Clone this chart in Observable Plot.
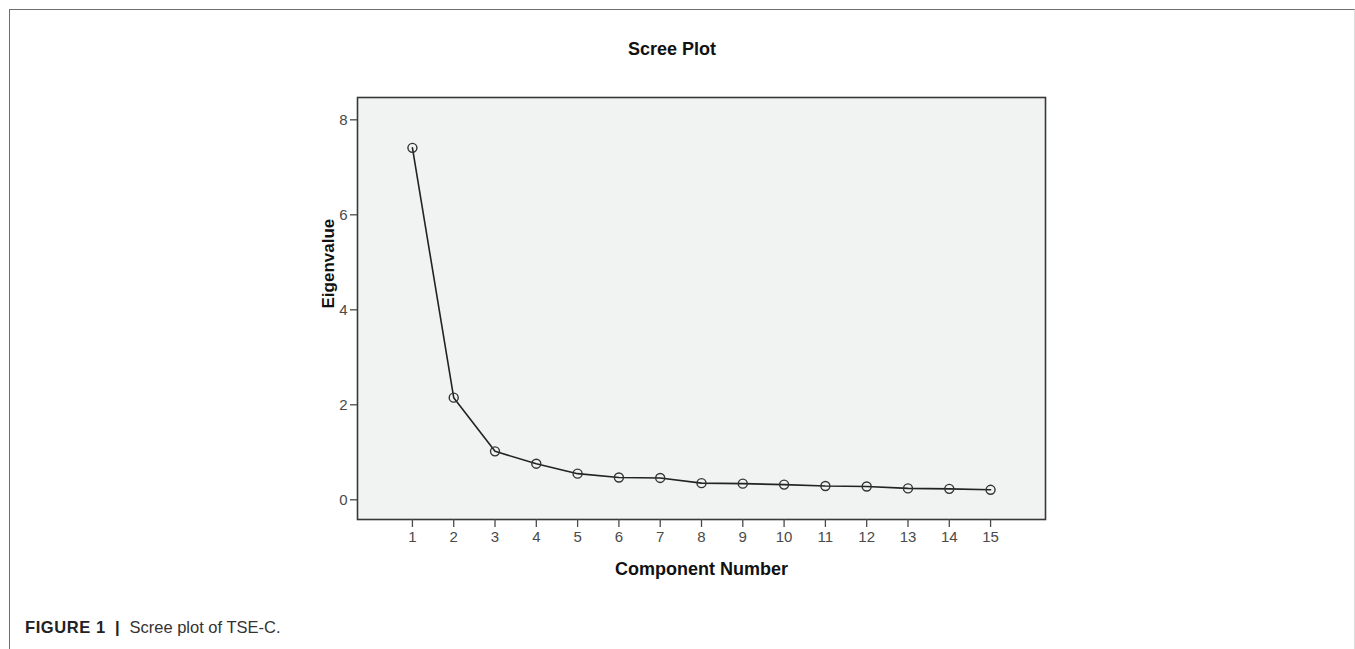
<!DOCTYPE html>
<html>
<head>
<meta charset="utf-8">
<script src="https://cdn.jsdelivr.net/npm/d3@7"></script>
<script src="https://cdn.jsdelivr.net/npm/@observablehq/plot@0.6"></script>
<style>
  html, body { margin: 0; padding: 0; background: #fff; }
  #wrap { position: relative; width: 1355px; height: 649px; overflow: hidden; font-family: "Liberation Sans", Arial, sans-serif; }
  #border { position: absolute; left: 9px; top: 9px; width: 1344px; height: 700px; border-top: 1.5px solid #6e6e6e; border-left: 1.5px solid #6e6e6e; border-right: 1px solid #dcdcdc; }
  #title { position: absolute; left: 0; width: 1344px; top: 39px; text-align: center; font-weight: bold; font-size: 18px; color: #111; }
  #chart { position: absolute; left: 0; top: 70px; }
  #caption { position: absolute; left: 25px; top: 618px; font-size: 16.5px; color: #333; white-space: pre; }
  #caption b { color: #222; letter-spacing: 0.6px; }
</style>
</head>
<body>
<div id="wrap">
  <div id="border"></div>
  <div id="title">Scree Plot</div>
  <div id="chart"></div>
  <div id="caption"><b>FIGURE 1</b>  <b>|</b>  Scree plot of TSE-C.</div>
</div>
<script>
const components = [1,2,3,4,5,6,7,8,9,10,11,12,13,14,15];
const eigenvalues = [7.41,2.15,1.02,0.76,0.55,0.47,0.46,0.35,0.34,0.32,0.29,0.28,0.24,0.23,0.21];
const yTicks = [0,2,4,6,8];
const xLabel = "Component Number";
const yLabel = "Eigenvalue";

const data = components.map((c, i) => ({c, v: eigenvalues[i]}));

const plot = Plot.plot({
  width: 1355,
  height: 530,
  marginLeft: 357,
  marginRight: 310,
  marginTop: 27,
  marginBottom: 81,
  style: {fontFamily: "Liberation Sans, Arial, sans-serif", fontSize: "15px", color: "#4a4a4a", background: "transparent"},
  x: {domain: [-0.33, 16.33], label: null},
  y: {domain: [-0.415, 8.47], label: null},
  marks: [
    Plot.frame({fill: "#f1f2f2", stroke: "#383838", strokeWidth: 1.6}),
    Plot.axisY({ticks: yTicks, tickSize: 7, tickPadding: 3, tickFormat: d => String(d), label: null, strokeWidth: 1.3, fontSize: 15}),
    Plot.axisX({ticks: components, tickSize: 8, tickPadding: 4, tickFormat: d => String(d), label: null, strokeWidth: 1.3, fontSize: 15}),
    Plot.line(data, {x: "c", y: "v", stroke: "#222", strokeWidth: 1.6}),
    Plot.dot(data, {x: "c", y: "v", r: 4.5, stroke: "#333", strokeWidth: 1.4, fill: "none"}),
    Plot.text([xLabel], {text: d => d, frameAnchor: "bottom", dy: 55, fontWeight: "bold", fontSize: 18, fill: "#111"}),
    Plot.text([yLabel], {text: d => d, frameAnchor: "left", dx: -29, rotate: -90, fontWeight: "bold", fontSize: 17, fill: "#111"})
  ]
});
document.getElementById("chart").appendChild(plot);
</script>
</body>
</html>
